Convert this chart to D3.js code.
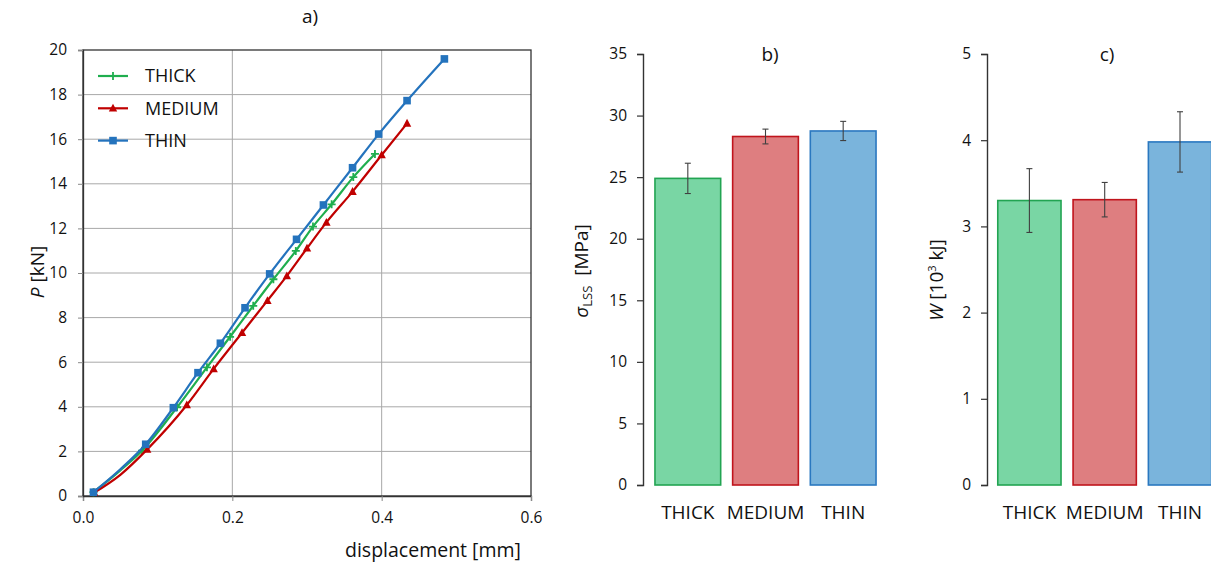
<!DOCTYPE html>
<html>
<head>
<meta charset="utf-8">
<script src="https://cdn.jsdelivr.net/npm/d3@7"></script>
<style>
  html, body { margin: 0; padding: 0; background: #fff; }
  svg { display: block; font-family: "Open Sans", "Noto Sans", sans-serif; }
</style>
</head>
<body>
<svg id="chart" width="1211" height="564"></svg>
<script>
// ---- Load–displacement curves (panel a) ----
const thickDisp = [0.014, 0.05, 0.079, 0.126, 0.166, 0.197, 0.228, 0.255, 0.285, 0.308, 0.333, 0.362, 0.391];
const thickLoad = [0.17, 1.15, 2.03, 3.98, 5.77, 7.14, 8.53, 9.72, 10.99, 12.08, 13.08, 14.30, 15.34];
const mediumDisp = [0.015, 0.05, 0.086, 0.139, 0.175, 0.213, 0.247, 0.273, 0.300, 0.326, 0.361, 0.400, 0.434];
const mediumLoad = [0.15, 0.95, 2.09, 4.08, 5.70, 7.32, 8.76, 9.87, 11.11, 12.27, 13.65, 15.29, 16.71];
const thinDisp = [0.014, 0.05, 0.084, 0.121, 0.154, 0.184, 0.217, 0.250, 0.286, 0.322, 0.361, 0.396, 0.434, 0.484];
const thinLoad = [0.17, 1.20, 2.32, 3.96, 5.53, 6.85, 8.44, 9.96, 11.51, 13.05, 14.72, 16.23, 17.73, 19.60];
// the toe point shapes the curve but carries no marker
const TOE_INDEX = 1;

const dispTicks = [0, 0.2, 0.4, 0.6];
const loadTicks = [0, 2, 4, 6, 8, 10, 12, 14, 16, 18, 20];

// ---- Bar panels (b, c) ----
const categories = ["THICK", "MEDIUM", "THIN"];
const lssMean = [24.9, 28.3, 28.75];
const lssErr = [1.23, 0.6, 0.78];
const workMean = [3.30, 3.31, 3.98];
const workErr = [0.37, 0.20, 0.35];
const lssTicks = [0, 5, 10, 15, 20, 25, 30, 35];
const workTicks = [0, 1, 2, 3, 4, 5];

const lineColor = { THICK: "#1fae4e", MEDIUM: "#c00000", THIN: "#2473bd" };
const barFill = { THICK: "#79d6a4", MEDIUM: "#de7e80", THIN: "#7ab4dc" };
const barStroke = { THICK: "#22a452", MEDIUM: "#c0141c", THIN: "#2a78c0" };

const svg = d3.select("#chart");
const axisColor = "#333";
const textColor = "#111";

// ================= Panel a =================
const ax = d3.scaleLinear().domain([0, 0.6]).range([83, 531]);
const ay = d3.scaleLinear().domain([0, 20]).range([496, 50]);
const ga = svg.append("g");

// grid
ga.append("g").selectAll("line.v").data(dispTicks.slice(1, -1)).join("line")
  .attr("x1", d => ax(d)).attr("x2", d => ax(d))
  .attr("y1", ay(0)).attr("y2", ay(20))
  .attr("stroke", "#a8a8a8").attr("stroke-width", 1);
ga.append("g").selectAll("line.h").data(loadTicks.slice(1, -1)).join("line")
  .attr("x1", ax(0)).attr("x2", ax(0.6))
  .attr("y1", d => ay(d)).attr("y2", d => ay(d))
  .attr("stroke", "#a8a8a8").attr("stroke-width", 1);

// frame
ga.append("rect")
  .attr("x", ax(0)).attr("y", ay(20))
  .attr("width", ax(0.6) - ax(0)).attr("height", ay(0) - ay(20))
  .attr("fill", "none").attr("stroke", axisColor).attr("stroke-width", 1.3);

const axA = ga.append("g").attr("transform", `translate(0,${ay(0)})`)
  .call(d3.axisBottom(ax).tickValues(dispTicks).tickFormat(d3.format(".1f")).tickSize(5).tickPadding(11));
const ayA = ga.append("g").attr("transform", `translate(${ax(0)},0)`)
  .call(d3.axisLeft(ay).tickValues(loadTicks).tickFormat(d3.format("d")).tickSize(5).tickPadding(11));
[axA, ayA].forEach(g => {
  g.select(".domain").attr("stroke", axisColor).attr("stroke-width", 1.3);
  g.selectAll(".tick line").attr("stroke", "#888");
  g.selectAll(".tick text").attr("fill", textColor).style("font-size", "15.5px").style("font-family", "Open Sans");
});

const series = [
  { name: "THICK", x: thickDisp, y: thickLoad, marker: "plus" },
  { name: "MEDIUM", x: mediumDisp, y: mediumLoad, marker: "triangle" },
  { name: "THIN", x: thinDisp, y: thinLoad, marker: "square" }
];

const line = d3.line().x(d => ax(d[0])).y(d => ay(d[1])).curve(d3.curveMonotoneX);

function drawMarker(g, type, color, cx, cy) {
  if (type === "square") {
    g.append("rect").attr("x", cx - 3.8).attr("y", cy - 3.8).attr("width", 7.6).attr("height", 7.6)
      .attr("fill", color);
  } else if (type === "triangle") {
    g.append("path").attr("d", `M${cx},${cy - 4.5}L${cx + 4.2},${cy + 3.3}L${cx - 4.2},${cy + 3.3}Z`)
      .attr("fill", color);
  } else {
    g.append("path").attr("d", `M${cx - 4},${cy}H${cx + 4}M${cx},${cy - 4}V${cy + 4}`)
      .attr("stroke", color).attr("stroke-width", 1.8).attr("fill", "none");
  }
}

series.forEach(s => {
  const pts = s.x.map((v, i) => [v, s.y[i]]);
  const col = lineColor[s.name];
  ga.append("path").datum(pts).attr("d", line)
    .attr("fill", "none").attr("stroke", col).attr("stroke-width", 2.2);
  const mg = ga.append("g");
  pts.forEach((p, i) => {
    if (i === TOE_INDEX) return;
    drawMarker(mg, s.marker, col, ax(p[0]), ay(p[1]));
  });
});

// legend
const leg = ga.append("g");
series.forEach((s, i) => {
  const yy = 76 + i * 32.3;
  const col = lineColor[s.name];
  leg.append("line").attr("x1", 98).attr("x2", 128).attr("y1", yy).attr("y2", yy)
    .attr("stroke", col).attr("stroke-width", 2.2);
  drawMarker(leg, s.marker, col, 113, yy);
  leg.append("text").attr("x", 145).attr("y", yy).attr("dy", "0.35em")
    .attr("fill", textColor).style("font-size", "18px").text(s.name);
});

ga.append("text").attr("x", 310).attr("y", 23).attr("text-anchor", "middle")
  .attr("fill", textColor).style("font-size", "19px").text("a)");
ga.append("text").attr("x", 433).attr("y", 557).attr("text-anchor", "middle")
  .attr("fill", textColor).style("font-size", "19.5px").text("displacement [mm]");
const pl = ga.append("text").attr("transform", "translate(44,272) rotate(-90)")
  .attr("text-anchor", "middle").attr("fill", textColor).style("font-size", "19px");
pl.append("tspan").style("font-style", "italic").text("P");
pl.append("tspan").text(" [kN]");

// ================= Bar panels =================
function barPanel(opts) {
  const g = svg.append("g");
  const y = d3.scaleLinear().domain(opts.domain).range([485, 54]);
  const x = d3.scaleBand().domain(categories).range(opts.xRange)
    .paddingInner(opts.padIn).paddingOuter(opts.padOut);

  const yAxis = g.append("g").attr("transform", `translate(${opts.xRange[0]},0)`)
    .call(d3.axisLeft(y).tickValues(opts.ticks).tickFormat(d3.format("d")).tickSize(6).tickPadding(10));
  yAxis.select(".domain").attr("stroke", axisColor).attr("stroke-width", 1.4);
  yAxis.selectAll(".tick line").attr("stroke", axisColor).attr("stroke-width", 1.2);
  yAxis.selectAll(".tick text").attr("fill", textColor).style("font-size", "15.5px").style("font-family", "Open Sans");

  g.append("g").selectAll("rect").data(categories).join("rect")
    .attr("x", d => x(d)).attr("width", x.bandwidth())
    .attr("y", (d, i) => y(opts.mean[i]))
    .attr("height", (d, i) => y(0) - y(opts.mean[i]))
    .attr("fill", d => barFill[d]).attr("stroke", d => barStroke[d]).attr("stroke-width", 1.6);

  const eg = g.append("g").attr("stroke", "#404040").attr("stroke-width", 1.1);
  categories.forEach((c, i) => {
    const cx = x(c) + x.bandwidth() / 2;
    const hi = y(opts.mean[i] + opts.err[i]);
    const lo = y(opts.mean[i] - opts.err[i]);
    eg.append("line").attr("x1", cx).attr("x2", cx).attr("y1", hi).attr("y2", lo);
    eg.append("line").attr("x1", cx - 3).attr("x2", cx + 3).attr("y1", hi).attr("y2", hi);
    eg.append("line").attr("x1", cx - 3).attr("x2", cx + 3).attr("y1", lo).attr("y2", lo);
  });

  g.append("g").selectAll("text").data(categories).join("text")
    .attr("x", d => x(d) + x.bandwidth() / 2).attr("y", 519)
    .attr("text-anchor", "middle").attr("fill", textColor)
    .style("font-size", "19px").text(d => d);

  g.append("text").attr("x", opts.titleX).attr("y", 61).attr("text-anchor", "middle")
    .attr("fill", textColor).style("font-size", "19px").text(opts.title);

  const lab = g.append("text")
    .attr("transform", `translate(${opts.labelX},${opts.labelY}) rotate(-90)`)
    .attr("text-anchor", "middle").attr("fill", textColor).style("font-size", "19px");
  opts.label(lab);
}

barPanel({
  domain: [0, 35], ticks: lssTicks, mean: lssMean, err: lssErr,
  xRange: [643, 888], padIn: 0.154, padOut: 0.154,
  title: "b)", titleX: 770, labelX: 588, labelY: 271,
  label: t => {
    t.append("tspan").style("font-style", "italic").text("σ");
    t.append("tspan").attr("dy", 4).style("font-size", "13px").text("LSS");
    t.append("tspan").attr("dy", -4).text("\u00a0 [MPa]");
  }
});

barPanel({
  domain: [0, 5], ticks: workTicks, mean: workMean, err: workErr,
  xRange: [987, 1222.4], padIn: 0.16, padOut: 0.143,
  title: "c)", titleX: 1107, labelX: 943, labelY: 280,
  label: t => {
    t.append("tspan").style("font-style", "italic").text("W");
    t.append("tspan").text(" [10");
    t.append("tspan").attr("dy", -7).style("font-size", "11px").text("3");
    t.append("tspan").attr("dy", 7).text(" kJ]");
  }
});
</script>
</body>
</html>
